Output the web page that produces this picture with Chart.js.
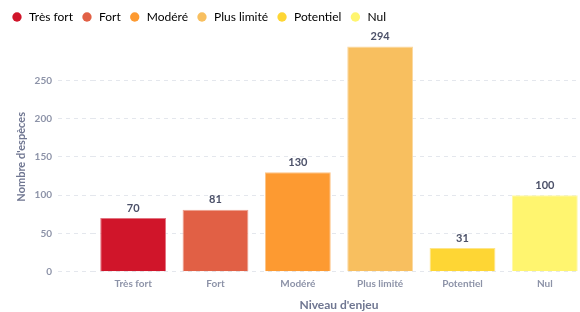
<!DOCTYPE html>
<html lang="fr">
<head>
  <meta charset="UTF-8">
  <title>Niveau d'enjeu</title>
  <script src="https://cdn.jsdelivr.net/npm/chart.js"></script>
  <style>
  html, body {
    margin: 0;
    padding: 0;
    background: #ffffff;
    overflow: hidden;
  }

  #wrap {
    width: 580px;
    height: 312px;
    overflow: hidden;
  }
</style>
</head>
<body>
  <div id="wrap">
    <canvas id="myChart" width="590" height="312"></canvas>
  </div>

  <script>
    const categories = ['Très fort', 'Fort', 'Modéré', 'Plus limité', 'Potentiel', 'Nul'];
    const speciesCounts = [70, 81, 130, 294, 31, 100];
    const yTicks = [0, 50, 100, 150, 200, 250];
    const barColors = ['#d0152a', '#e16045', '#fd9a31', '#f8bf5f', '#fed634', '#fff56f'];
    const barEdges = ['#e27380', '#eda08f', '#fdc386', '#fbd89f', '#fee58a', '#fff9a8'];

    // values above each bar
    const valueLabels = {
      id: 'valueLabels',
      afterDatasetsDraw(chart) {
        const ctx = chart.ctx;
        const meta = chart.getDatasetMeta(0);
        ctx.save();
        ctx.font = 'bold 11px Lato';
        ctx.fillStyle = '#4b5068';
        ctx.textAlign = 'center';
        ctx.textBaseline = 'middle';
        meta.data.forEach((bar, i) => {
          ctx.fillText(speciesCounts[i], bar.x, bar.y - 10);
        });
        ctx.restore();
      }
    };

    // fixed legend height so the plot area starts where the reference does
    const legendHeight = {
      id: 'legendHeight',
      afterInit(chart) {
        const legend = chart.legend;
        const fit = legend.fit;
        legend.fit = function() {
          fit.call(this);
          this.height = 39;
        };
      }
    };

    const ctx = document.getElementById('myChart').getContext('2d');

    new Chart(ctx, {
      type: 'bar',
      data: {
        labels: categories,
        datasets: [{
          label: "Nombre d'espèces",
          data: speciesCounts,
          backgroundColor: barColors,
          borderColor: barEdges,
          borderWidth: 1,
          barPercentage: 0.8,
          categoryPercentage: 1
        }]
      },
      options: {
        responsive: false,
        animation: false,
        layout: {
          padding: { left: 3, right: 4, top: 3, bottom: 0 }
        },
        plugins: {
          tooltip: { enabled: false },
          legend: {
            position: 'top',
            align: 'start',
            labels: {
              usePointStyle: true,
              pointStyle: 'circle',
              boxWidth: 12,
              boxHeight: 6.6,
              padding: 8,
              color: '#4a5270',
              font: { family: 'Lato', size: 12 },
              generateLabels() {
                return categories.map((name, i) => ({
                  text: name,
                  fillStyle: barColors[i],
                  strokeStyle: barColors[i],
                  lineWidth: 0,
                  pointStyle: 'circle',
                  hidden: false,
                  index: i
                }));
              }
            }
          }
        },
        scales: {
          x: {
            grid: { display: false, drawTicks: false },
            border: { display: false },
            ticks: {
              padding: 6,
              color: '#8d93a8',
              font: { family: 'Lato', size: 10, weight: 'bold' }
            },
            title: {
              display: true,
              text: "Niveau d'enjeu",
              color: '#6f7691',
              padding: { top: 0, bottom: 0 },
              font: { family: 'Lato', size: 12, weight: 'bold' }
            },
            afterFit(scale) {
              scale.height = 40.3;
            }
          },
          y: {
            min: 0,
            max: 300,
            afterBuildTicks(scale) {
              scale.ticks = yTicks.map(v => ({ value: v }));
            },
            grid: {
              color: '#e4e7ed',
              tickColor: '#e4e7ed',
              tickLength: 34,
              tickBorderDash: [4, 4]
            },
            border: { display: false, dash: [4, 4] },
            ticks: {
              padding: 6,
              color: '#8d93a8',
              font: { family: 'Lato', size: 10, weight: 'bold' }
            },
            title: {
              display: true,
              text: "Nombre d'espèces",
              color: '#6f7691',
              padding: { top: 12, bottom: 0 },
              font: { family: 'Lato', size: 11, weight: 'bold' }
            },
            afterFit(scale) {
              scale.width = 89;
            }
          }
        }
      },
      plugins: [valueLabels, legendHeight]
    });
  </script>
</body>
</html>
